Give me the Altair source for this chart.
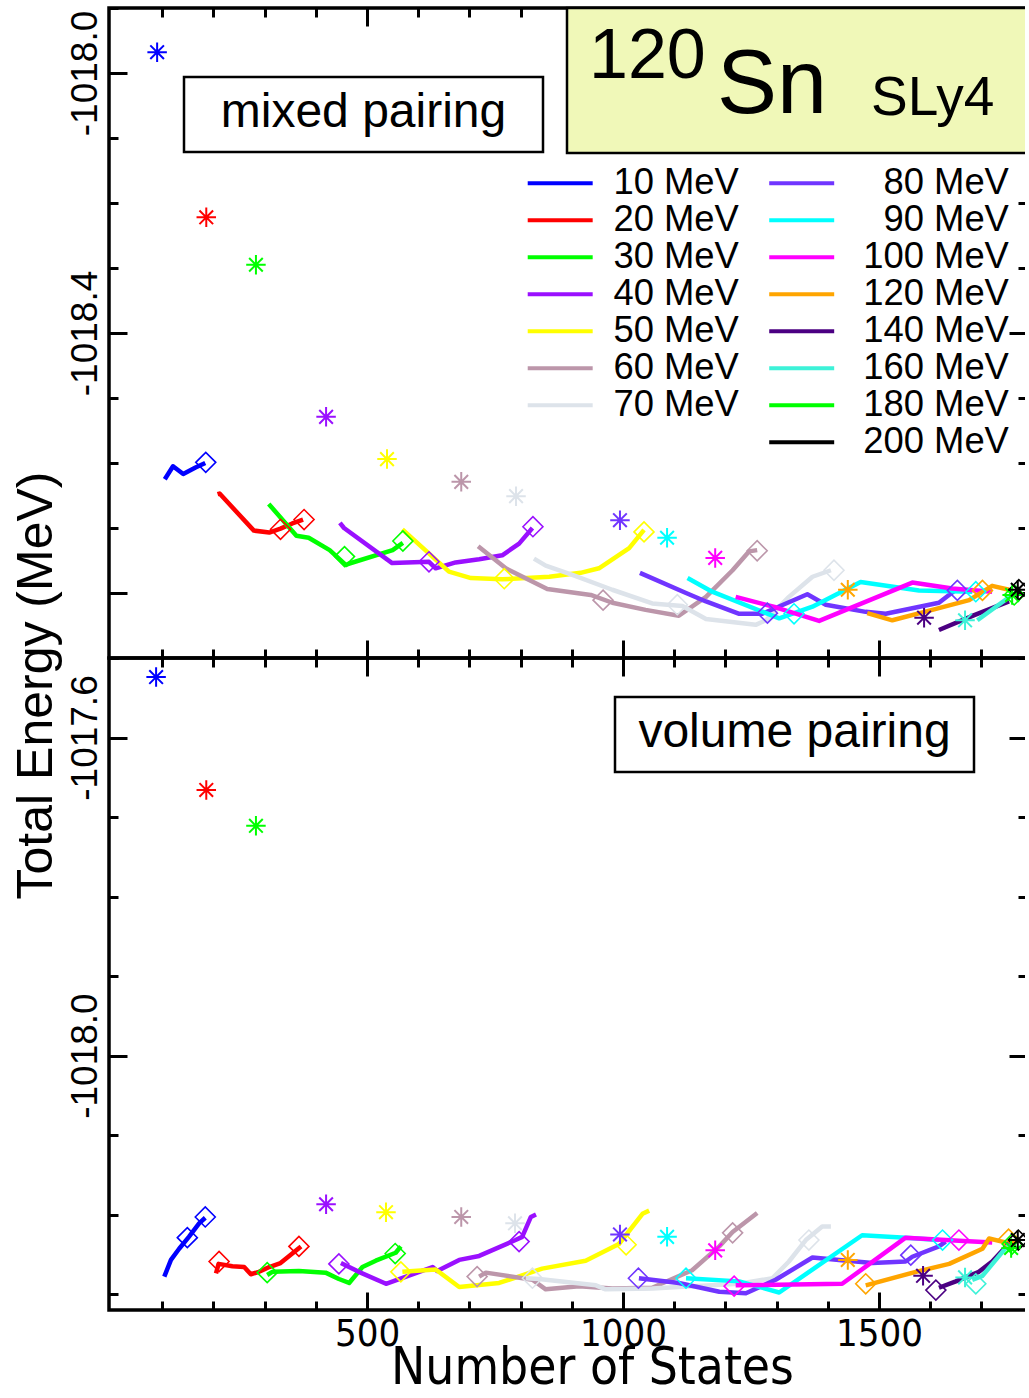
import altair as alt
import pandas as pd

# ---- pairing windows (legend columns) and colours ----
ENERGIES_A = ["10 MeV", "20 MeV", "30 MeV", "40 MeV", "50 MeV", "60 MeV", "70 MeV"]
COLORS_A = ["#0000ff", "#ff0000", "#00ff00", "#9a10ff", "#ffff00", "#bc96aa", "#dde3ea"]
ENERGIES_B = ["80 MeV", "90 MeV", "100 MeV", "120 MeV", "140 MeV", "160 MeV", "180 MeV", "200 MeV"]
COLORS_B = ["#7035ff", "#00ffff", "#ff00ff", "#ffa500", "#4b0082", "#3df2d8", "#00ff00", "#000000"]
ENERGIES = ENERGIES_A + ENERGIES_B

# ---- mixed pairing: convergence curves (number of states, total energy) ----
MIX_10_N = [105, 121, 141, 165, 184]
MIX_10_E = [-1018.625, -1018.605, -1018.617, -1018.607, -1018.600]
MIX_20_N = [208, 212, 279, 309, 331, 354, 375]
MIX_20_E = [-1018.648, -1018.647, -1018.704, -1018.707, -1018.701, -1018.693, -1018.687]
MIX_30_N = [308, 362, 386, 427, 459, 464, 550, 570]
MIX_30_E = [-1018.663, -1018.712, -1018.715, -1018.734, -1018.757, -1018.755, -1018.734, -1018.723]
MIX_40_N = [447, 455, 549, 621, 634, 673, 719, 764, 797, 823]
MIX_40_E = [-1018.692, -1018.700, -1018.754, -1018.752, -1018.762, -1018.753, -1018.748, -1018.742, -1018.724, -1018.700]
MIX_50_N = [569, 660, 703, 764, 856, 917, 953, 1012, 1041]
MIX_50_E = [-1018.702, -1018.767, -1018.777, -1018.779, -1018.775, -1018.769, -1018.762, -1018.731, -1018.703]
MIX_60_N = [717, 771, 852, 937, 979, 1044, 1109, 1162, 1214, 1246, 1262]
MIX_60_E = [-1018.728, -1018.762, -1018.794, -1018.803, -1018.815, -1018.826, -1018.835, -1018.806, -1018.765, -1018.736, -1018.734]
MIX_70_N = [826, 849, 901, 979, 1057, 1116, 1162, 1259, 1279, 1324, 1370, 1406]
MIX_70_E = [-1018.747, -1018.758, -1018.772, -1018.795, -1018.816, -1018.820, -1018.840, -1018.849, -1018.842, -1018.806, -1018.775, -1018.765]
MIX_80_N = [1033, 1123, 1162, 1227, 1272, 1360, 1396, 1474, 1513, 1617, 1650]
MIX_80_E = [-1018.769, -1018.800, -1018.813, -1018.832, -1018.832, -1018.802, -1018.818, -1018.829, -1018.832, -1018.815, -1018.795]
MIX_90_N = [1126, 1174, 1305, 1370, 1464, 1578, 1682]
MIX_90_E = [-1018.777, -1018.798, -1018.839, -1018.821, -1018.783, -1018.796, -1018.798]
MIX_100_N = [1220, 1298, 1383, 1565, 1643, 1721]
MIX_100_E = [-1018.806, -1018.822, -1018.843, -1018.784, -1018.793, -1018.798]
MIX_120_N = [1477, 1526, 1604, 1676, 1721, 1754]
MIX_120_E = [-1018.831, -1018.842, -1018.826, -1018.811, -1018.789, -1018.795]
MIX_140_N = [1617, 1686, 1754]
MIX_140_E = [-1018.857, -1018.834, -1018.813]
MIX_160_N = [1692, 1760]
MIX_160_E = [-1018.842, -1018.803]
MIX_180_N = [1760, 1770]
MIX_180_E = [-1018.803, -1018.799]
MIX_200_N = [1768, 1773]
MIX_200_E = [-1018.797, -1018.795]

MIX_STAR_N = [90, 186, 283, 420, 539, 684, 791, 994, 1086, 1180, 1439, 1588, 1668, 1760, 1771]
MIX_STAR_E = [-1017.968, -1018.222, -1018.295, -1018.529, -1018.594, -1018.629, -1018.651, -1018.688,
              -1018.715, -1018.746, -1018.795, -1018.838, -1018.842, -1018.803, -1018.795]

MIX_DIA_SERIES = ["10 MeV", "20 MeV", "20 MeV", "30 MeV", "30 MeV", "40 MeV", "40 MeV", "50 MeV", "50 MeV",
                  "60 MeV", "60 MeV", "70 MeV", "70 MeV", "80 MeV", "80 MeV", "90 MeV", "90 MeV",
                  "120 MeV", "180 MeV", "200 MeV"]
MIX_DIA_N = [185, 331, 377, 456, 570, 621, 824, 768, 1041, 961, 1262, 1106, 1412, 1282, 1653, 1334, 1689,
             1702, 1764, 1773]
MIX_DIA_E = [-1018.599, -1018.702, -1018.687, -1018.744, -1018.720, -1018.752, -1018.698, -1018.778, -1018.706,
             -1018.811, -1018.735, -1018.818, -1018.765, -1018.831, -1018.796, -1018.832, -1018.798,
             -1018.796, -1018.803, -1018.795]

# ---- volume pairing ----
VOL_10_N = [104, 117, 133, 152, 172, 184]
VOL_10_E = [-1018.278, -1018.257, -1018.243, -1018.228, -1018.211, -1018.204]
VOL_20_N = [205, 210, 237, 260, 273, 289, 309, 331, 354, 371]
VOL_20_E = [-1018.274, -1018.262, -1018.265, -1018.266, -1018.275, -1018.272, -1018.266, -1018.261, -1018.249, -1018.240]
VOL_30_N = [305, 315, 367, 419, 445, 465, 491, 517, 556, 566]
VOL_30_E = [-1018.276, -1018.272, -1018.271, -1018.273, -1018.281, -1018.286, -1018.266, -1018.258, -1018.248, -1018.240]
VOL_40_N = [449, 484, 537, 602, 628, 637, 680, 719, 790, 803, 820, 830]
VOL_40_E = [-1018.261, -1018.272, -1018.287, -1018.272, -1018.266, -1018.271, -1018.257, -1018.252, -1018.232,
            -1018.228, -1018.203, -1018.200]
VOL_50_N = [569, 634, 680, 758, 842, 927, 992, 1038, 1051]
VOL_50_E = [-1018.272, -1018.269, -1018.291, -1018.286, -1018.268, -1018.258, -1018.237, -1018.199, -1018.195]
VOL_60_N = [719, 732, 823, 849, 914, 979, 1057, 1135, 1188, 1214, 1262]
VOL_60_E = [-1018.278, -1018.273, -1018.282, -1018.294, -1018.290, -1018.293, -1018.292, -1018.270, -1018.240,
            -1018.222, -1018.198]
VOL_70_N = [810, 836, 947, 966, 1057, 1109, 1227, 1292, 1324, 1357, 1389, 1406]
VOL_70_E = [-1018.280, -1018.281, -1018.289, -1018.294, -1018.293, -1018.291, -1018.287, -1018.280, -1018.259,
            -1018.232, -1018.215, -1018.215]
VOL_80_N = [1031, 1109, 1188, 1240, 1298, 1370, 1422, 1487, 1552, 1565, 1617, 1630]
VOL_80_E = [-1018.280, -1018.286, -1018.297, -1018.299, -1018.282, -1018.254, -1018.257, -1018.261, -1018.259,
            -1018.253, -1018.240, -1018.234]
VOL_90_N = [1123, 1227, 1305, 1467, 1552, 1617]
VOL_90_E = [-1018.280, -1018.284, -1018.298, -1018.226, -1018.229, -1018.232]
VOL_100_N = [1220, 1428, 1552, 1656, 1721]
VOL_100_E = [-1018.289, -1018.287, -1018.229, -1018.233, -1018.235]
VOL_120_N = [1474, 1572, 1637, 1702, 1715, 1747, 1767]
VOL_120_E = [-1018.289, -1018.272, -1018.262, -1018.243, -1018.230, -1018.235, -1018.236]
VOL_140_N = [1617, 1650, 1695, 1721, 1754]
VOL_140_E = [-1018.292, -1018.284, -1018.272, -1018.259, -1018.236]
VOL_160_N = [1682, 1702, 1728, 1754]
VOL_160_E = [-1018.282, -1018.277, -1018.257, -1018.237]
VOL_180_N = [1756, 1766]
VOL_180_E = [-1018.245, -1018.238]
VOL_200_N = [1768, 1774]
VOL_200_E = [-1018.233, -1018.231]

VOL_STAR_N = [88, 186, 283, 420, 537, 684, 789, 994, 1086, 1180, 1439, 1586, 1668, 1758, 1771]
VOL_STAR_E = [-1017.524, -1017.666, -1017.711, -1018.187, -1018.197, -1018.203, -1018.211, -1018.225,
              -1018.228, -1018.245, -1018.257, -1018.277, -1018.279, -1018.242, -1018.232]

VOL_DIA_SERIES = ["10 MeV", "10 MeV", "20 MeV", "20 MeV", "30 MeV", "30 MeV", "40 MeV", "40 MeV",
                  "50 MeV", "50 MeV", "60 MeV", "60 MeV", "70 MeV", "70 MeV", "80 MeV", "80 MeV",
                  "90 MeV", "90 MeV", "100 MeV", "100 MeV", "120 MeV", "120 MeV", "140 MeV", "160 MeV",
                  "180 MeV", "200 MeV"]
VOL_DIA_N = [149, 184, 211, 367, 305, 555, 445, 797, 566, 1006, 715, 1214, 823, 1363, 1030, 1562,
             1123, 1624, 1217, 1656, 1474, 1753, 1611, 1689, 1760, 1772]
VOL_DIA_E = [-1018.229, -1018.203, -1018.259, -1018.240, -1018.273, -1018.249, -1018.262, -1018.234,
             -1018.272, -1018.238, -1018.278, -1018.223, -1018.280, -1018.232, -1018.280, -1018.251,
             -1018.280, -1018.232, -1018.290, -1018.232, -1018.287, -1018.231, -1018.295, -1018.287,
             -1018.237, -1018.232]

MIX_LINES = [(MIX_10_N, MIX_10_E), (MIX_20_N, MIX_20_E), (MIX_30_N, MIX_30_E), (MIX_40_N, MIX_40_E),
             (MIX_50_N, MIX_50_E), (MIX_60_N, MIX_60_E), (MIX_70_N, MIX_70_E), (MIX_80_N, MIX_80_E),
             (MIX_90_N, MIX_90_E), (MIX_100_N, MIX_100_E), (MIX_120_N, MIX_120_E), (MIX_140_N, MIX_140_E),
             (MIX_160_N, MIX_160_E), (MIX_180_N, MIX_180_E), (MIX_200_N, MIX_200_E)]
VOL_LINES = [(VOL_10_N, VOL_10_E), (VOL_20_N, VOL_20_E), (VOL_30_N, VOL_30_E), (VOL_40_N, VOL_40_E),
             (VOL_50_N, VOL_50_E), (VOL_60_N, VOL_60_E), (VOL_70_N, VOL_70_E), (VOL_80_N, VOL_80_E),
             (VOL_90_N, VOL_90_E), (VOL_100_N, VOL_100_E), (VOL_120_N, VOL_120_E), (VOL_140_N, VOL_140_E),
             (VOL_160_N, VOL_160_E), (VOL_180_N, VOL_180_E), (VOL_200_N, VOL_200_E)]


def curve_table(curves):
    rows = []
    for series, (ns, es) in zip(ENERGIES, curves):
        for i, (n, e) in enumerate(zip(ns, es)):
            rows.append({"series": series, "i": i, "n": n, "e": e})
    return pd.DataFrame(rows)


def point_table(series, ns, es):
    return pd.DataFrame({"series": series, "n": ns, "e": es})


FONT = "Liberation Sans, Arial, sans-serif"
NARROW = "Liberation Sans Narrow, Arial Narrow, DejaVu Sans Condensed, sans-serif"
STAR = "M-1,0H1M0,-1V1M-0.7,-0.7L0.7,0.7M-0.7,0.7L0.7,-0.7"

W = 918
XDOM = [-4, 1789]
MINOR_X = list(range(100, 1800, 100))
MAJOR_X = [500, 1000, 1500]

LEG_A = alt.Legend(title=None, orient="none", legendX=433, legendY=157, direction="vertical",
                   symbolType="M-3,0H3", symbolSize=469, symbolStrokeWidth=4, symbolOffset=0,
                   labelFont=FONT, labelFontSize=36.4, labelColor="black", labelOffset=35,
                   labelLimit=0, rowPadding=0, padding=0)
# second column: labels flush right
LEG_B = alt.Legend(title=None, orient="none", legendX=674.5, legendY=157, direction="vertical",
                   symbolType="M-3,0H3", symbolSize=469, symbolStrokeWidth=4, symbolOffset=0,
                   labelFont=FONT, labelFontSize=36.4, labelColor="black", labelOffset=189,
                   labelAlign="right", labelLimit=0, rowPadding=0, padding=0)


def tick_axis(orient, offset, values, size):
    return alt.Axis(orient=orient, offset=offset, values=values, domain=False, grid=False,
                    labels=False, title=None, ticks=True, tickColor="black", tickWidth=3,
                    tickSize=size)


def panel(lines, diamonds, stars, ydom, minor_y, major_y, label_y, height, x_label_axis, y_title,
          extras):
    xs = alt.Scale(domain=XDOM, nice=False, zero=False)
    ys = alt.Scale(domain=ydom, nice=False, zero=False)

    def X(axis):
        return alt.X("n:Q", scale=xs, axis=axis)

    def Y(axis):
        return alt.Y("e:Q", scale=ys, axis=axis)

    def col_a(legend):
        return alt.Color("series:N", scale=alt.Scale(domain=ENERGIES_A, range=COLORS_A), legend=legend)

    def col_b(legend):
        return alt.Stroke("series:N", scale=alt.Scale(domain=ENERGIES_B, range=COLORS_B), legend=legend)

    in_a = lambda df: df[df["series"].isin(ENERGIES_A)]
    in_b = lambda df: df[df["series"].isin(ENERGIES_B)]

    y_axis_kw = dict(orient="left", values=label_y, ticks=False, tickSize=0, domain=False, grid=False,
                     labelExpr="'-' + format(abs(datum.value), '.1f')", labelAngle=270,
                     labelAlign="center", labelBaseline="bottom", labelPadding=5, labelFont=FONT,
                     labelFontSize=37, labelColor="black", labelOverlap=False, labelFlush=False)
    if y_title:
        y_axis_kw.update(title=y_title, titleFont=FONT, titleFontSize=50, titleFontWeight="normal",
                         titleColor="black", titleAngle=270, titleX=-48, titleY=677,
                         titleAlign="center", titleBaseline="bottom")
    else:
        y_axis_kw.update(title=None)
    y_label_axis = alt.Axis(**y_axis_kw)

    mark_kw = dict(strokeWidth=4.5, strokeJoin="round")
    line_a = alt.Chart(in_a(lines)).mark_line(**mark_kw).encode(
        x=X(tick_axis("top", -height, MINOR_X, 9)),
        y=Y(tick_axis("right", -W, minor_y, 9)),
        color=col_a(LEG_A), order="i:Q")
    line_b = alt.Chart(in_b(lines)).mark_line(**mark_kw).encode(
        x=X(tick_axis("bottom", -height, MINOR_X, 9)),
        y=Y(tick_axis("left", -W, minor_y, 9)),
        stroke=col_b(LEG_B), order="i:Q")
    dia_kw = dict(shape="diamond", size=400, strokeWidth=1.6, filled=False, opacity=1)
    dia_a = alt.Chart(in_a(diamonds)).mark_point(**dia_kw).encode(
        x=X(tick_axis("top", -height, MAJOR_X, 18)),
        y=Y(tick_axis("right", -W, major_y, 18)),
        color=col_a(None))
    dia_b = alt.Chart(in_b(diamonds)).mark_point(**dia_kw).encode(
        x=X(tick_axis("bottom", -height, MAJOR_X, 18)),
        y=Y(tick_axis("left", -W, major_y, 18)),
        stroke=col_b(None))
    star_kw = dict(shape=STAR, size=380, strokeWidth=2, filled=False, opacity=1)
    star_a = alt.Chart(in_a(stars)).mark_point(**star_kw).encode(
        x=X(x_label_axis), y=Y(y_label_axis), color=col_a(None))
    star_b = alt.Chart(in_b(stars)).mark_point(**star_kw).encode(
        x=X(None), y=Y(None), stroke=col_b(None))

    layers = [line_a, line_b, dia_a, dia_b, star_a, star_b] + extras
    return alt.layer(*layers).resolve_axis(x="independent", y="independent").properties(
        width=W, height=height)


ONE = pd.DataFrame({"k": [0]})


def box(x, x2, y, y2, fill):
    return alt.Chart(ONE).mark_rect(fill=fill, stroke="black", strokeWidth=2.5).encode(
        x=alt.value(x), x2=alt.value(x2), y=alt.value(y), y2=alt.value(y2))


def label(txt, x, y, size, align="left"):
    return alt.Chart(ONE).mark_text(text=txt, font=FONT, fontSize=size, align=align,
                                    baseline="alphabetic", color="black").encode(
        x=alt.value(x), y=alt.value(y))


top_extras = [
    box(458, W, 0, 145, "#f0f8b8"),
    label("120", 480, 70, 70),
    label("Sn", 608, 105, 90),
    label("SLy4", 762, 107, 55),
    box(75, 434, 69, 144, "white"),
    label("mixed pairing", 254.5, 119, 48, "center"),
]
bottom_extras = [
    box(506, 865, 39, 114, "white"),
    label("volume pairing", 685.5, 89, 48, "center"),
]

x_label_axis = alt.Axis(orient="bottom", values=MAJOR_X, format="d", ticks=False, tickSize=0,
                        domain=False, grid=False, labelFont=NARROW, labelFontSize=38,
                        labelColor="black", labelPadding=5, labelFlush=False, labelOverlap=False,
                        title="Number of States", titleFont=NARROW, titleFontSize=51,
                        titleFontWeight="normal", titleColor="black", titleX=483, titleY=73,
                        titleAlign="center", titleBaseline="alphabetic")

top_minor = [round(-1018.9 + 0.1 * k, 1) for k in range(11)]
bottom_minor = [round(-1018.3 + 0.1 * k, 1) for k in range(9)]

top = panel(curve_table(MIX_LINES), point_table(MIX_DIA_SERIES, MIX_DIA_N, MIX_DIA_E),
            point_table(ENERGIES, MIX_STAR_N, MIX_STAR_E), [-1018.9, -1017.9], top_minor,
            [-1018.8, -1018.4, -1018.0], [-1018.4, -1018.0], 650, None, "Total Energy (MeV)",
            top_extras)
bottom = panel(curve_table(VOL_LINES), point_table(VOL_DIA_SERIES, VOL_DIA_N, VOL_DIA_E),
               point_table(ENERGIES, VOL_STAR_N, VOL_STAR_E), [-1018.32, -1017.5], bottom_minor,
               [-1018.0, -1017.6], [-1018.0, -1017.6], 652, x_label_axis, None, bottom_extras)

# negative right padding trims the empty guide extent past the right frame
chart = alt.vconcat(top, bottom, spacing=0, bounds="flush").resolve_scale(
    x="shared", y="independent", color="shared", stroke="shared").properties(
    padding={"left": 9, "top": 4, "right": -9, "bottom": 0}, background="white").configure_view(
    stroke="black", strokeWidth=3.5)

chart.save("out.html", embed_options={"renderer": "svg", "actions": False})
